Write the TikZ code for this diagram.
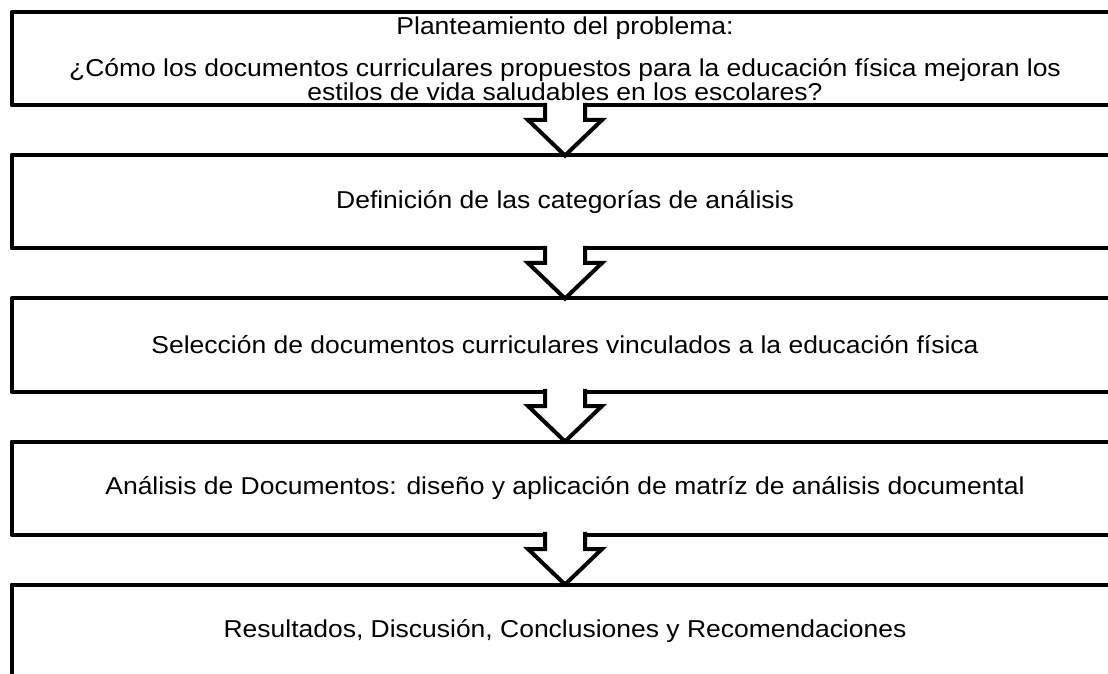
\documentclass[tikz,border=0pt]{standalone}
\usepackage{fontspec}
\setmainfont{Liberation Sans}[FakeStretch=1.085]
\usepackage{tikz}
\usetikzlibrary{positioning}

\begin{document}
\begin{tikzpicture}[x=1pt,y=1pt,
    etapa/.style={draw, line width=4pt, line join=round, outer sep=0pt, inner sep=0pt,
      minimum width=1107pt, minimum height=93pt, align=center,
      font=\fontsize{24.4}{23.5}\selectfont},
    flecha/.style={draw, fill=white, line width=4pt, line join=miter}]
    \useasboundingbox (0,0) rectangle (1108,673);
    \node[etapa] (plan) at (565,614) {\raisebox{0pt}[17pt][0pt]{Planteamiento del problema:}\\[19pt]
      ¿Cómo los documentos curriculares propuestos para la educación física mejoran los\\
      estilos de vida saludables en los escolares?};
    \node[etapa, below=50pt of plan] (categ) {Definición de las categorías de análisis};
    \node[etapa, below=50pt of categ] (selec) {Selección de documentos curriculares vinculados a la educación física};
    \node[etapa, below=50pt of selec] (anal) {Análisis de Documentos: diseño y aplicación de matríz de análisis documental};
    \node[etapa, below=50pt of anal] (result) {Resultados, Discusión, Conclusiones y Recomendaciones};
    % flechas entre etapas
    \foreach \a/\b in {plan/categ, categ/selec, selec/anal, anal/result}
      \path[flecha] ([xshift=-20pt,yshift=2.6pt]\a.south) -- ++(0,-17.1) -- ++(-17,0)
        -- (\b.north) -- ([xshift=37pt,yshift=-14.5pt]\a.south) -- ++(-17,0)
        -- ([xshift=20pt,yshift=2.6pt]\a.south);
  \end{tikzpicture}
\end{document}
